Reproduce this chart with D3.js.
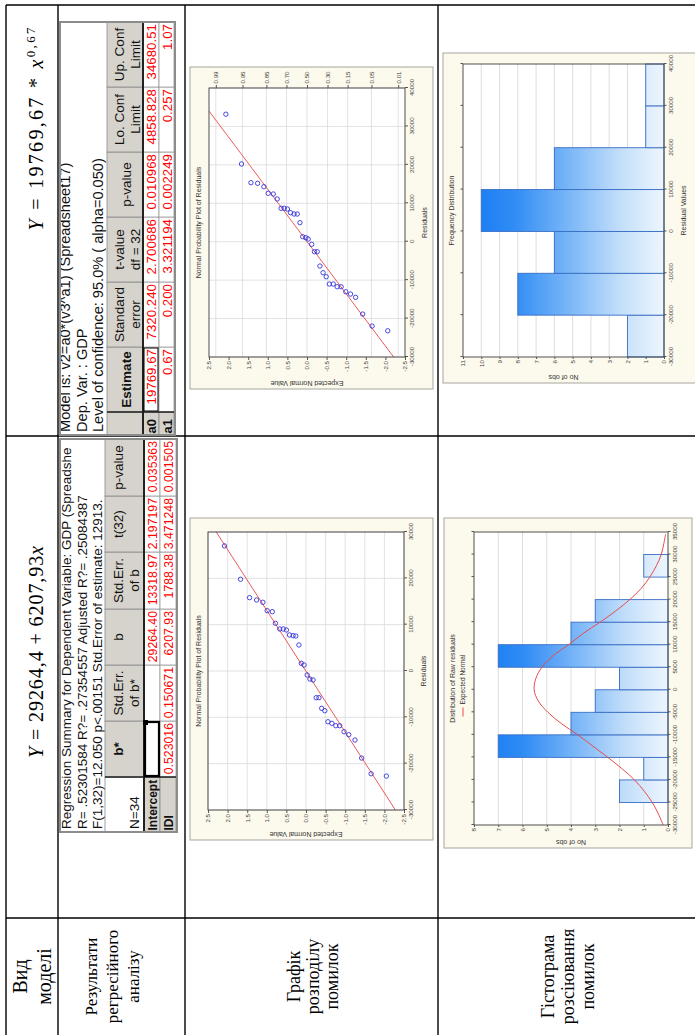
<!DOCTYPE html>
<html>
<head>
<meta charset="utf-8">
<script src="https://cdn.jsdelivr.net/npm/d3@7"></script>
<style>
  body { margin: 0; background: #fff; }
  svg { display: block; }
</style>
</head>
<body>
<script>
// ---------- table text ----------
const rowLabels = [
  ["Вид", "моделі"],
  ["Результати", "регресійного", "аналізу"],
  ["Графік", "розподілу", "помилок"],
  ["Гістограма", "розсіювання", "помилок"]
];
const formulaLinear = ["Y", " = 29264,4 + 6207,93", "x"];
const formulaPower = ["Y", " = 19769,67 * ", "x", "0,67"];

// ---------- regression summary: linear model ----------
const linTitle = [
  "Regression Summary for Dependent Variable: GDP (Spreadshe",
  "R= .52301584 R?= .27354557 Adjusted R?= .25084387",
  "F(1,32)=12.050 p<.00151 Std.Error of estimate: 12913."
];
const linHeaders = [["", "N=34"], ["b*"], ["Std.Err.", "of b*"], ["b"], ["Std.Err.", "of b"], ["t(32)"], ["p-value"]];
const linRowNames = ["Intercept", "IDI"];
const linValues = [
  ["", "", "29264.40", "13318.97", "2.197197", "0.035363"],
  ["0.523016", "0.150671", "6207.93", "1788.38", "3.471248", "0.001505"]
];

// ---------- regression summary: power model ----------
const powTitle = [
  "Model is: v2=a0*(v3^a1) (Spreadsheet17)",
  "Dep. Var. : GDP",
  "Level of confidence: 95.0% ( alpha=0.050)"
];
const powHeaders = [[""], ["Estimate"], ["Standard", "error"], ["t-value", "df = 32"], ["p-value"], ["Lo. Conf", "Limit"], ["Up. Conf", "Limit"]];
const powRowNames = ["a0", "a1"];
const powValues = [
  ["19769.67", "7320.240", "2.700686", "0.010968", "4858.828", "34680.51"],
  ["0.67", "0.200", "3.321194", "0.002249", "0.257", "1.07"]
];

// ---------- normal probability plots: residual vs expected normal value ----------
const resid1 = [27000, 19800, 15830, 15330, 14830, 13020, 12800, 10300, 9070, 9070, 8850, 7780, 7620, 7560, 5620,
  1660, 1300, -860, -1730, -1940, -5760, -5760, -8060, -8570, -10950, -11300, -11810, -11810, -13100, -13750,
  -14900, -18790, -22180, -22680];
const expNorm1 = [2.08, 1.67, 1.44, 1.26, 1.10, 0.99, 0.86, 0.78, 0.67, 0.58, 0.50, 0.42, 0.33, 0.26, 0.18,
  0.12, 0.05, -0.03, -0.10, -0.18, -0.26, -0.33, -0.40, -0.48, -0.56, -0.66, -0.76, -0.86, -0.97, -1.09,
  -1.25, -1.42, -1.66, -2.05];
const resid2 = [33180, 20230, 15360, 15200, 14320, 12600, 12420, 11120, 8700, 8700, 8510, 7550, 7210, 7210, 4950,
  1300, 1040, 700, -680, -2600, -2600, -6330, -8070, -9110, -11020, -11020, -11720, -11720, -13020, -13620,
  -14480, -18830, -21950, -23180];
const expNorm2 = [2.07, 1.67, 1.43, 1.26, 1.10, 0.99, 0.86, 0.76, 0.66, 0.58, 0.50, 0.42, 0.33, 0.25, 0.18,
  0.11, 0.03, -0.03, -0.12, -0.19, -0.26, -0.33, -0.41, -0.49, -0.57, -0.67, -0.77, -0.87, -0.99, -1.11,
  -1.24, -1.42, -1.66, -2.06];
// reference lines (two end points each)
const fitLine1R = [-30000, 30000], fitLine1Z = [-2.28, 2.29];
const fitLine2R = [-30000, 34000], fitLine2Z = [-2.21, 2.5];
const zTicks = [2.5, 2.0, 1.5, 1.0, 0.5, 0.0, -0.5, -1.0, -1.5, -2.0, -2.5];
const resTicks1 = [-30000, -20000, -10000, 0, 10000, 20000, 30000];
const resTicks2 = [-30000, -20000, -10000, 0, 10000, 20000, 30000, 40000];
const probLabels = ["0.99", "0.95", "0.85", "0.70", "0.50", "0.30", "0.15", "0.05", "0.01"];
const probZ = [2.326, 1.645, 1.036, 0.524, 0, -0.524, -1.036, -1.645, -2.326];

// ---------- histograms ----------
const hist1Lo = [-25000, -20000, -15000, -10000, -5000, 0, 5000, 10000, 15000, 25000];
const hist1Count = [2, 1, 7, 4, 3, 2, 7, 4, 3, 1];
const hist1Width = 5000;
const hist1Ticks = [-30000, -25000, -20000, -15000, -10000, -5000, 0, 5000, 10000, 15000, 20000, 25000, 30000, 35000];
const normCurveR = [-30000, -27500, -25000, -22500, -20000, -17500, -15000, -12500, -10000, -7500, -5000, -2500, 0,
  2500, 5000, 7500, 10000, 12500, 15000, 17500, 20000, 22500, 25000, 27500, 30000, 32500, 34500];
const normCurveC = [0.2, 0.4, 0.65, 0.98, 1.38, 1.9, 2.48, 3.1, 3.72, 4.4, 4.95, 5.35, 5.52,
  5.45, 5.2, 4.75, 4.1, 3.5, 2.8, 2.15, 1.58, 1.1, 0.75, 0.48, 0.28, 0.17, 0.1];
const hist2Lo = [-30000, -20000, -10000, 0, 10000, 20000, 30000];
const hist2Count = [2, 8, 6, 10, 6, 1, 1];
const hist2Width = 10000;

// ---------- drawing ----------
const W = 695, H = 1035;
const SANS = "'Liberation Sans', Arial, sans-serif";
const SERIF = "'Liberation Serif', 'Times New Roman', serif";
const BG = "#fcf9ed";

const svg = d3.select("body").append("svg").attr("width", W).attr("height", H);
const defs = svg.append("defs");
// the page is laid out in landscape and turned a quarter to the left
const L = svg.append("g").attr("transform", `translate(0,${H}) rotate(-90)`);

// table grid
const grid = L.append("g").attr("stroke", "#000").attr("stroke-width", 1.4);
[117, 599, 1030].forEach(u => grid.append("line").attr("x1", u).attr("x2", u).attr("y1", 6).attr("y2", 700));
[6, 58, 185, 438].forEach(v => grid.append("line").attr("x1", -5).attr("x2", 1030).attr("y1", v).attr("y2", v));

// row labels
const labelBase = [[27, 51], [97, 118, 139], [300, 319, 338], [554, 574, 594]];
const labelSize = [20, 17, 18, 18];
rowLabels.forEach((lines, i) => {
  const t = L.append("text").attr("font-family", SERIF).attr("font-size", labelSize[i]).attr("text-anchor", "middle");
  lines.forEach((s, j) => t.append("tspan").attr("x", 58.5).attr("y", labelBase[i][j]).text(s));
});

// model formulas
function formula(parts, cx, len) {
  const t = L.append("text").attr("x", cx).attr("y", 43).attr("text-anchor", "middle")
    .attr("font-family", SERIF).attr("font-size", 20)
    .attr("textLength", len).attr("lengthAdjust", "spacing");
  t.append("tspan").attr("font-style", "italic").text(parts[0]);
  t.append("tspan").text(parts[1]);
  t.append("tspan").attr("font-style", "italic").text(parts[2]);
  if (parts[3]) t.append("tspan").attr("font-size", 13).attr("dy", -8).text(parts[3]);
}
formula(formulaLinear, 383, 212);
formula(formulaPower, 906, 203);

// spreadsheet-style result tables
function table(cfg) {
  const g = L.append("g").attr("font-family", SANS).attr("font-size", 13.5);
  const cid = "clip-" + cfg.id;
  defs.append("clipPath").attr("id", cid).append("rect")
    .attr("x", cfg.u0).attr("y", cfg.v0).attr("width", cfg.u1 - cfg.u0).attr("height", cfg.v1 - cfg.v0);
  const c = g.append("g").attr("clip-path", `url(#${cid})`);
  c.append("rect").attr("x", cfg.u0).attr("y", cfg.v0).attr("width", cfg.u1 - cfg.u0).attr("height", cfg.v1 - cfg.v0).attr("fill", "#fff");
  cfg.title.forEach((s, i) => c.append("text").attr("x", cfg.u0 + 3).attr("y", cfg.titleBase[i])
    .attr("font-size", cfg.titleSize).attr("fill", "#111").text(s));
  const e = cfg.edges;
  const hv0 = cfg.head[0], hv1 = cfg.head[1];
  // header
  cfg.headers.forEach((h, i) => {
    const white = i === 0 && cfg.cornerWhite;
    c.append("rect").attr("x", e[i]).attr("y", hv0).attr("width", e[i + 1] - e[i]).attr("height", hv1 - hv0)
      .attr("fill", white ? "#fff" : "#d6d3cc").attr("stroke", "#8a8a8a").attr("stroke-width", 0.8);
    const bold = cfg.boldHeaders.includes(i);
    h.forEach((s, j) => {
      if (!s) return;
      const base = h.length === 2 ? cfg.headBase[j] : cfg.singleBase;
      const anchorLeft = i === 0;
      c.append("text").attr("x", anchorLeft ? e[i] + 3 : (e[i] + e[i + 1]) / 2).attr("y", base)
        .attr("text-anchor", anchorLeft ? "start" : "middle")
        .attr("font-weight", bold ? "bold" : null).attr("fill", "#111").text(s);
    });
  });
  // rows
  cfg.rowNames.forEach((name, r) => {
    const rv0 = cfg.rows[r], rv1 = cfg.rows[r + 1];
    c.append("rect").attr("x", e[0]).attr("y", rv0).attr("width", e[1] - e[0]).attr("height", rv1 - rv0)
      .attr("fill", "#d6d3cc").attr("stroke", "#8a8a8a").attr("stroke-width", 0.8);
    c.append("text").attr("x", e[0] + 1.5).attr("y", cfg.rowBase[r]).attr("font-weight", "bold")
      .attr("font-size", cfg.nameSize).attr("fill", "#111").text(name);
    cfg.values[r].forEach((val, k) => {
      c.append("rect").attr("x", e[k + 1]).attr("y", rv0).attr("width", e[k + 2] - e[k + 1]).attr("height", rv1 - rv0)
        .attr("fill", "#fff").attr("stroke", "#9a9a9a").attr("stroke-width", 0.8);
      if (val) c.append("text").attr("x", e[k + 2] - 2).attr("y", cfg.rowBase[r]).attr("text-anchor", "end")
        .attr("font-size", cfg.valueSize).attr("fill", "#f00").text(val);
    });
  });
  // separators
  c.append("line").attr("x1", cfg.u0).attr("x2", cfg.u1).attr("y1", hv1).attr("y2", hv1).attr("stroke", "#222").attr("stroke-width", 2);
  c.append("line").attr("x1", e[1]).attr("x2", e[1]).attr("y1", hv0).attr("y2", cfg.v1).attr("stroke", "#222").attr("stroke-width", 1.5);
  // selected cell
  const s = cfg.sel;
  const su0 = e[s.col + 1], su1 = e[s.col + 2], sv0 = cfg.rows[s.row], sv1 = cfg.rows[s.row + 1];
  c.append("rect").attr("x", su0 + 1).attr("y", sv0 + 1).attr("width", su1 - su0 - 2).attr("height", sv1 - sv0 - 2)
    .attr("fill", "none").attr("stroke", "#000").attr("stroke-width", s.w);
  if (s.handle) c.append("rect").attr("x", su1 - 4).attr("y", sv0 - 1).attr("width", 5).attr("height", 5).attr("fill", "#000");
  // frame
  g.append("rect").attr("x", cfg.u0).attr("y", cfg.v0).attr("width", cfg.u1 - cfg.u0).attr("height", cfg.v1 - cfg.v0)
    .attr("fill", "none").attr("stroke", "#8c8c8c").attr("stroke-width", 2);
}

table({
  id: "lin", u0: 203, u1: 596, v0: 60, v1: 177,
  title: linTitle, titleBase: [71, 87, 102], titleSize: 13.5,
  edges: [203, 258, 314, 370, 426, 483, 539, 596],
  head: [105, 144], headBase: [123, 139], singleBase: 123, cornerWhite: true, boldHeaders: [1],
  headers: linHeaders, rowNames: linRowNames, values: linValues, nameSize: 12, valueSize: 12.3,
  rows: [144, 160, 176], rowBase: [157, 173],
  sel: { row: 0, col: 0, w: 2.2, handle: true }
});
table({
  id: "pow", u0: 600, u1: 1013, v0: 60, v1: 175,
  title: powTitle, titleBase: [70, 86.5, 103], titleSize: 14.6,
  edges: [600, 623, 688, 753, 818, 883, 948, 1013],
  head: [107, 143], headBase: [124, 139.5], singleBase: 131, cornerWhite: false, boldHeaders: [1],
  headers: powHeaders, rowNames: powRowNames, values: powValues, nameSize: 13, valueSize: 13.3,
  rows: [143, 159, 174], rowBase: [156, 171.5],
  sel: { row: 0, col: 0, w: 1, handle: false }
});

// chart helpers
function chartBox(g, b) {
  g.append("rect").attr("x", b[0]).attr("y", b[2]).attr("width", b[1] - b[0]).attr("height", b[3] - b[2])
    .attr("fill", BG).attr("stroke", "#a8a69e").attr("stroke-width", 1);
}
function styleAxis(a) {
  a.attr("font-family", SANS).attr("font-size", 6.2);
  a.select(".domain").remove();
  a.selectAll(".tick line").attr("stroke", "#555");
  a.selectAll(".tick text").attr("fill", "#444");
}
function frameClip(id, f) {
  defs.append("clipPath").attr("id", id).append("rect")
    .attr("x", f[0]).attr("y", f[2]).attr("width", f[1] - f[0]).attr("height", f[3] - f[2]);
}

function normalPlot(p) {
  const g = L.append("g").attr("font-family", SANS);
  chartBox(g, p.box);
  const f = p.frame;
  const x = d3.scaleLinear().domain(p.rDomain).range([f[0], f[1]]);
  const y = d3.scaleLinear().domain([2.5, -2.5]).range([f[2], f[3]]);
  g.append("rect").attr("x", f[0]).attr("y", f[2]).attr("width", f[1] - f[0]).attr("height", f[3] - f[2]).attr("fill", "#fff");
  const gr = g.append("g").attr("stroke", "#dadada").attr("stroke-width", 0.8);
  p.rTicks.forEach(r => gr.append("line").attr("x1", x(r)).attr("x2", x(r)).attr("y1", f[2]).attr("y2", f[3]));
  p.gridZ.forEach(z => gr.append("line").attr("x1", f[0]).attr("x2", f[1]).attr("y1", y(z)).attr("y2", y(z)));
  const cid = "clip-" + p.id;
  frameClip(cid, f);
  const inner = g.append("g").attr("clip-path", `url(#${cid})`);
  inner.append("path")
    .attr("d", d3.line().x(i => x(p.lineR[i])).y(i => y(p.lineZ[i]))([0, 1]))
    .attr("stroke", "#ec5b5b").attr("stroke-width", 1).attr("fill", "none");
  inner.selectAll("circle").data(p.res).join("circle")
    .attr("cx", d => x(d)).attr("cy", (d, i) => y(p.z[i])).attr("r", 2.2)
    .attr("fill", "none").attr("stroke", "#3434dc").attr("stroke-width", 0.9);
  g.append("rect").attr("x", f[0]).attr("y", f[2]).attr("width", f[1] - f[0]).attr("height", f[3] - f[2])
    .attr("fill", "none").attr("stroke", "#3c3c3c").attr("stroke-width", 0.9);
  styleAxis(g.append("g").attr("transform", `translate(0,${f[3]})`)
    .call(d3.axisBottom(x).tickValues(p.rTicks).tickSize(3).tickPadding(2).tickFormat(d => String(d))));
  styleAxis(g.append("g").attr("transform", `translate(${f[0]},0)`)
    .call(d3.axisLeft(y).tickValues(zTicks).tickSize(3).tickPadding(1).tickFormat(d => d.toFixed(1))));
  if (p.prob) {
    styleAxis(g.append("g").attr("transform", `translate(${f[1]},0)`)
      .call(d3.axisRight(y).tickValues(probZ).tickSize(3).tickPadding(1.5).tickFormat((d, i) => probLabels[i])));
  }
  const cu = (f[0] + f[1]) / 2;
  g.append("text").attr("x", cu).attr("y", p.box[2] + 10.5).attr("text-anchor", "middle").attr("font-size", 7).attr("fill", "#333")
    .text("Normal Probability Plot of Residuals");
  g.append("text").attr("x", cu).attr("y", f[3] + 21.5).attr("text-anchor", "middle").attr("font-size", 7).attr("fill", "#333")
    .text("Residuals");
  g.append("text").attr("transform", `translate(${p.box[0] + 8.5},${(f[2] + f[3]) / 2}) rotate(-90)`)
    .attr("text-anchor", "middle").attr("font-size", 7).attr("fill", "#333").text("Expected Normal Value");
}

normalPlot({
  id: "np1", box: [195, 517, 190, 433], frame: [225, 503, 208, 404], rDomain: [-30000, 30000],
  rTicks: resTicks1, gridZ: zTicks, res: resid1, z: expNorm1, lineR: fitLine1R, lineZ: fitLine1Z, prob: false
});
normalPlot({
  id: "np2", box: [646, 968, 190, 433], frame: [678, 947, 209, 405], rDomain: [-30000, 40000],
  rTicks: resTicks2, gridZ: probZ, res: resid2, z: expNorm2, lineR: fitLine2R, lineZ: fitLine2Z, prob: true
});

function histogram(h) {
  const g = L.append("g").attr("font-family", SANS);
  chartBox(g, h.box);
  const f = h.frame;
  const x = d3.scaleLinear().domain(h.rDomain).range([f[0], f[1]]);
  const y = d3.scaleLinear().domain([0, h.cMax]).range([f[3], f[2]]);
  const gid = "grad-" + h.id;
  const lg = defs.append("linearGradient").attr("id", gid).attr("gradientUnits", "userSpaceOnUse")
    .attr("x1", 0).attr("x2", 0).attr("y1", f[2]).attr("y2", f[3]);
  [[0, "#1679f2"], [0.25, "#2f8bf5"], [0.5, "#72b2f7"], [0.78, "#c2defa"], [1, "#eef6fe"]]
    .forEach(([o, col]) => lg.append("stop").attr("offset", o).attr("stop-color", col));
  g.append("rect").attr("x", f[0]).attr("y", f[2]).attr("width", f[1] - f[0]).attr("height", f[3] - f[2]).attr("fill", "#fff");
  const gr = g.append("g").attr("stroke", "#d6d6d6").attr("stroke-width", 0.8);
  d3.range(1, h.cMax).forEach(c => gr.append("line").attr("x1", f[0]).attr("x2", f[1]).attr("y1", y(c)).attr("y2", y(c)));
  g.selectAll("rect.bar").data(h.lo).join("rect").attr("class", "bar")
    .attr("x", d => x(d)).attr("width", d => x(d + h.width) - x(d))
    .attr("y", (d, i) => y(h.count[i])).attr("height", (d, i) => y(0) - y(h.count[i]))
    .attr("fill", `url(#${gid})`).attr("stroke", "#3a6ec4").attr("stroke-width", 0.9);
  if (h.curveR) {
    const cid = "clip-" + h.id;
    frameClip(cid, f);
    g.append("path").attr("clip-path", `url(#${cid})`)
      .attr("d", d3.line().curve(d3.curveCatmullRom).x(d => x(d)).y((d, i) => y(h.curveC[i]))(h.curveR))
      .attr("fill", "none").attr("stroke", "#e64c4c").attr("stroke-width", 1);
  }
  g.append("rect").attr("x", f[0]).attr("y", f[2]).attr("width", f[1] - f[0]).attr("height", f[3] - f[2])
    .attr("fill", "none").attr("stroke", "#3c3c3c").attr("stroke-width", 0.9);
  styleAxis(g.append("g").attr("transform", `translate(0,${f[3]})`)
    .call(d3.axisBottom(x).tickValues(h.ticks).tickSize(2.5).tickPadding(2).tickFormat(d => String(d))));
  styleAxis(g.append("g").attr("transform", `translate(0,${f[2]})`)
    .call(d3.axisTop(x).tickValues(h.ticks).tickSize(2.5).tickFormat("")));
  styleAxis(g.append("g").attr("transform", `translate(${f[0]},0)`)
    .call(d3.axisLeft(y).tickValues(d3.range(0, h.cMax + 1)).tickSize(2).tickPadding(1).tickFormat(d => String(d))));
  const cu = (f[0] + f[1]) / 2;
  g.append("text").attr("x", cu).attr("y", h.box[2] + 10.5).attr("text-anchor", "middle").attr("font-size", 7).attr("fill", "#333")
    .text(h.title);
  g.append("text").attr("transform", `translate(${h.box[0] + 8.5},${(f[2] + f[3]) / 2}) rotate(-90)`)
    .attr("text-anchor", "middle").attr("font-size", 7).attr("fill", "#333").text("No of obs");
  if (h.xTitle) g.append("text").attr("x", cu).attr("y", f[3] + 22).attr("text-anchor", "middle").attr("font-size", 7).attr("fill", "#333")
    .text(h.xTitle);
  if (h.legend) {
    const lu = cu - 38, lv = h.box[2] + 21;
    g.append("line").attr("x1", lu).attr("x2", lu + 9).attr("y1", lv - 2).attr("y2", lv - 2).attr("stroke", "#e64c4c").attr("stroke-width", 1);
    g.append("text").attr("x", lu + 12).attr("y", lv).attr("font-size", 6.5).attr("fill", "#333").text(h.legend);
  }
}

histogram({
  id: "h1", box: [187, 517, 444, 692], frame: [210, 503, 474, 668], rDomain: [-30000, 35000], cMax: 8,
  lo: hist1Lo, count: hist1Count, width: hist1Width, ticks: hist1Ticks,
  curveR: normCurveR, curveC: normCurveC,
  title: "Distribution of Raw residuals", legend: "Expected Normal", xTitle: null
});
histogram({
  id: "h2", box: [652, 982, 443, 700], frame: [678, 971, 463, 664], rDomain: [-30000, 40000], cMax: 11,
  lo: hist2Lo, count: hist2Count, width: hist2Width, ticks: resTicks2,
  curveR: null, title: "Frequency Distribution", legend: null, xTitle: "Residual Values"
});
</script>
</body>
</html>
